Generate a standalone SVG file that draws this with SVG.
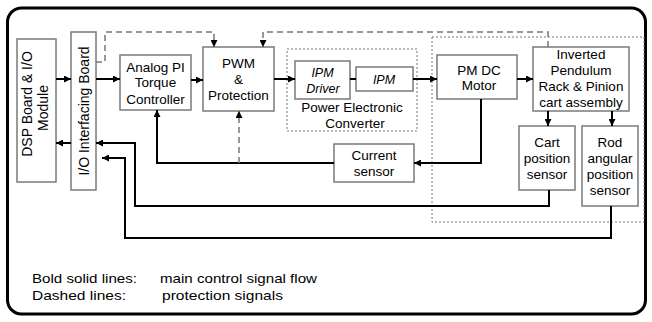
<svg xmlns="http://www.w3.org/2000/svg" width="652" height="322" viewBox="0 0 652 322">
<defs>
<marker id="ah" viewBox="0 0 8 8" refX="8" refY="4" markerWidth="7" markerHeight="7" markerUnits="userSpaceOnUse" orient="auto"><path d="M0,0 L8,4 L0,8 z" fill="#000"/></marker>
<style>
.box{fill:#fff;stroke:#7a7a7a;stroke-width:1.5}
.dot{fill:none;stroke:#777;stroke-width:1;stroke-dasharray:2,2}
.t{font-family:"Liberation Sans",Arial,sans-serif;font-size:13.5px;fill:#000;text-anchor:middle}
.r{font-size:14px}
.it{font-style:italic;font-size:12.5px}
.c{fill:none;stroke:#000;stroke-width:2}
.d{fill:none;stroke:#777;stroke-width:1.5;stroke-dasharray:6,4}
.lg{font-family:"Liberation Sans",Arial,sans-serif;font-size:13.5px;fill:#000}
</style>
</defs>
<rect width="652" height="322" fill="#fff"/>
<rect x="7.5" y="8" width="638" height="306" rx="14" fill="none" stroke="#000" stroke-width="3"/>

<g id="pe-converter"><rect class="dot" x="287" y="49" width="130" height="82"/><text class="t" x="352" y="111.5">Power Electronic</text><text class="t" x="355" y="127.5">Converter</text></g>
<g id="plant-group"><rect class="dot" x="432" y="37" width="212" height="185"/></g>

<g id="dsp"><rect class="box" x="17" y="39" width="39" height="143"/><text class="t r" transform="translate(31.5,104) rotate(-90)">DSP Board &amp; I/O</text><text class="t r" transform="translate(47.5,108) rotate(-90)">Module</text></g>
<g id="io-board"><rect class="box" x="71" y="32" width="25" height="158"/><text class="t r" transform="translate(88.5,111) rotate(-90)">I/O Interfacing Board</text></g>
<g id="analog-pi"><rect class="box" x="120" y="55" width="71" height="55"/><text class="t" x="155.5" y="71.5">Analog PI</text><text class="t" x="155.5" y="87">Torque</text><text class="t" x="155.5" y="103.5">Controller</text></g>
<g id="pwm"><rect class="box" x="203" y="47" width="71" height="64"/><text class="t" x="238.5" y="67.5">PWM</text><text class="t" x="238.5" y="83.5">&amp;</text><text class="t" x="238.5" y="99.5">Protection</text></g>
<g id="ipm-driver"><rect class="box" x="295" y="61" width="55" height="38"/><text class="t it" x="322.5" y="76.5">IPM</text><text class="t it" x="323" y="92.5">Driver</text></g>
<g id="ipm"><rect class="box" x="356" y="67" width="57" height="24"/><text class="t it" x="384" y="83.5">IPM</text></g>
<g id="pm-dc-motor"><rect class="box" x="437" y="55" width="80" height="44"/><text class="t" x="479" y="74.5">PM DC</text><text class="t" x="479" y="90">Motor</text></g>
<g id="pendulum"><rect class="box" x="533" y="47" width="96" height="64"/><text class="t" x="581" y="58.5">Inverted</text><text class="t" x="581" y="75">Pendulum</text><text class="t" x="581" y="91">Rack &amp; Pinion</text><text class="t" x="581" y="107">cart assembly</text></g>
<g id="cart-sensor"><rect class="box" x="519" y="126" width="56" height="64"/><text class="t" x="547" y="146.5">Cart</text><text class="t" x="547" y="162.5">position</text><text class="t" x="547" y="178.5">sensor</text></g>
<g id="rod-sensor"><rect class="box" x="582" y="126" width="56" height="80"/><text class="t" x="610" y="146.5">Rod</text><text class="t" x="610" y="162.5">angular</text><text class="t" x="610" y="178.5">position</text><text class="t" x="610" y="195">sensor</text></g>
<g id="current-sensor"><rect class="box" x="334" y="144" width="80" height="38"/><text class="t" x="374" y="159.5">Current</text><text class="t" x="374" y="175.5">sensor</text></g>

<g id="connectors">
<path class="c" d="M56,79 H71" marker-end="url(#ah)"/>
<path class="c" d="M71,143 H56" marker-end="url(#ah)"/>
<path class="c" d="M96,79 H120" marker-end="url(#ah)"/>
<path class="c" d="M191,80 H203" marker-end="url(#ah)"/>
<path class="c" d="M274,79 H295" marker-end="url(#ah)"/>
<path class="c" d="M350,79 H356"/>
<path class="c" d="M413,79 H437" marker-end="url(#ah)"/>
<path class="c" d="M517,79 H533" marker-end="url(#ah)"/>
<path class="c" d="M548,111 V126" marker-end="url(#ah)"/>
<path class="c" d="M612,111 V126" marker-end="url(#ah)"/>
<path class="c" d="M481,99 V163 H414" marker-end="url(#ah)"/>
<path class="c" d="M334,163 H157 V110" marker-end="url(#ah)"/>
<path class="c" d="M549,190 V206 H135 V143 H96" marker-end="url(#ah)"/>
<path class="c" d="M611,206 V238 H125 V158 H102" marker-end="url(#ah)"/>
<path class="d" d="M239,163 V111" marker-end="url(#ah)"/>
<path class="d" d="M96,62 H105 V32 H214 V47" marker-end="url(#ah)"/>
<path class="d" d="M548,47 V32 H263 V47" marker-end="url(#ah)"/>
</g>

<g id="legend">
<text class="lg" x="32" y="283" textLength="105" lengthAdjust="spacingAndGlyphs">Bold solid lines:</text>
<text class="lg" x="160" y="283" textLength="157" lengthAdjust="spacingAndGlyphs">main control signal flow</text>
<text class="lg" x="32" y="300" textLength="94" lengthAdjust="spacingAndGlyphs">Dashed lines:</text>
<text class="lg" x="162" y="300" textLength="121" lengthAdjust="spacingAndGlyphs">protection signals</text>
</g>
</svg>
